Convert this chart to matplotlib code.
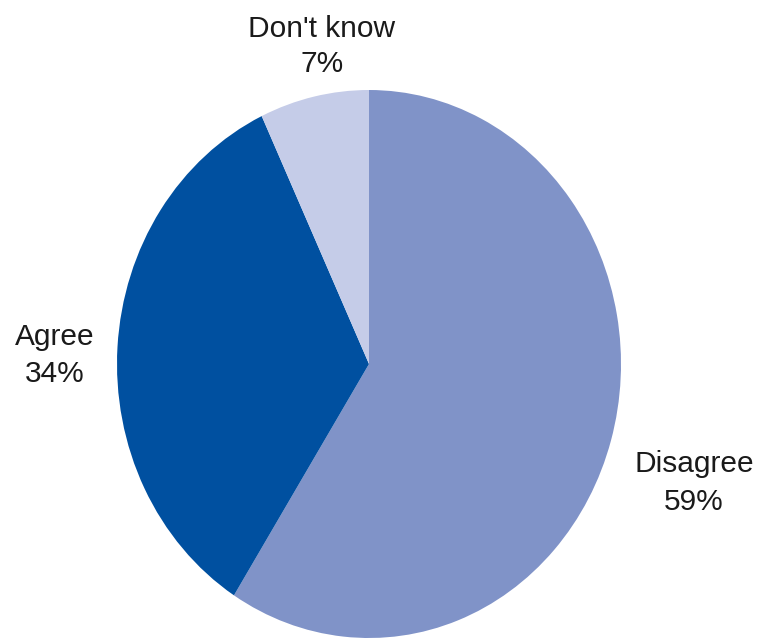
import matplotlib
matplotlib.use("Agg")
import matplotlib.pyplot as plt

categories = ["Disagree", "Agree", "Don't know"]
values = [59, 34, 7]
colors = ["#8093C8", "#0050A0", "#C5CCE8"]

W, H = 760, 639
fig = plt.figure(figsize=(W / 100, H / 100), dpi=100)
plt.rcParams['font.family'] = ['Liberation Sans', 'DejaVu Sans']

# axes box in pixels: x 117..621, y 90..638 (top-down)
left, right, top, bottom = 117, 621, 90, 638
ax = fig.add_axes([left / W, (H - bottom) / H, (right - left) / W, (bottom - top) / H])
ax.pie(values, colors=colors, startangle=90, counterclock=False,
       wedgeprops=dict(linewidth=0))
ax.set_aspect('auto')
ax.set_xlim(-1, 1)
ax.set_ylim(-1, 1)
ax.axis('off')

fs = 21.5
label_pos = {
    "Don't know": (322, 37, 72),
    "Agree": (55, 345, 382),
    "Disagree": (694, 472, 510),
}
for cat, val in zip(categories, values):
    x, b1, b2 = label_pos[cat]
    fig.text(x / W, 1 - b1 / H, cat, ha='center', va='baseline', fontsize=fs, color='#1a1a1a')
    fig.text(x / W, 1 - b2 / H, f"{val}%", ha='center', va='baseline', fontsize=fs, color='#1a1a1a')

fig.savefig("out.png", dpi=100)
